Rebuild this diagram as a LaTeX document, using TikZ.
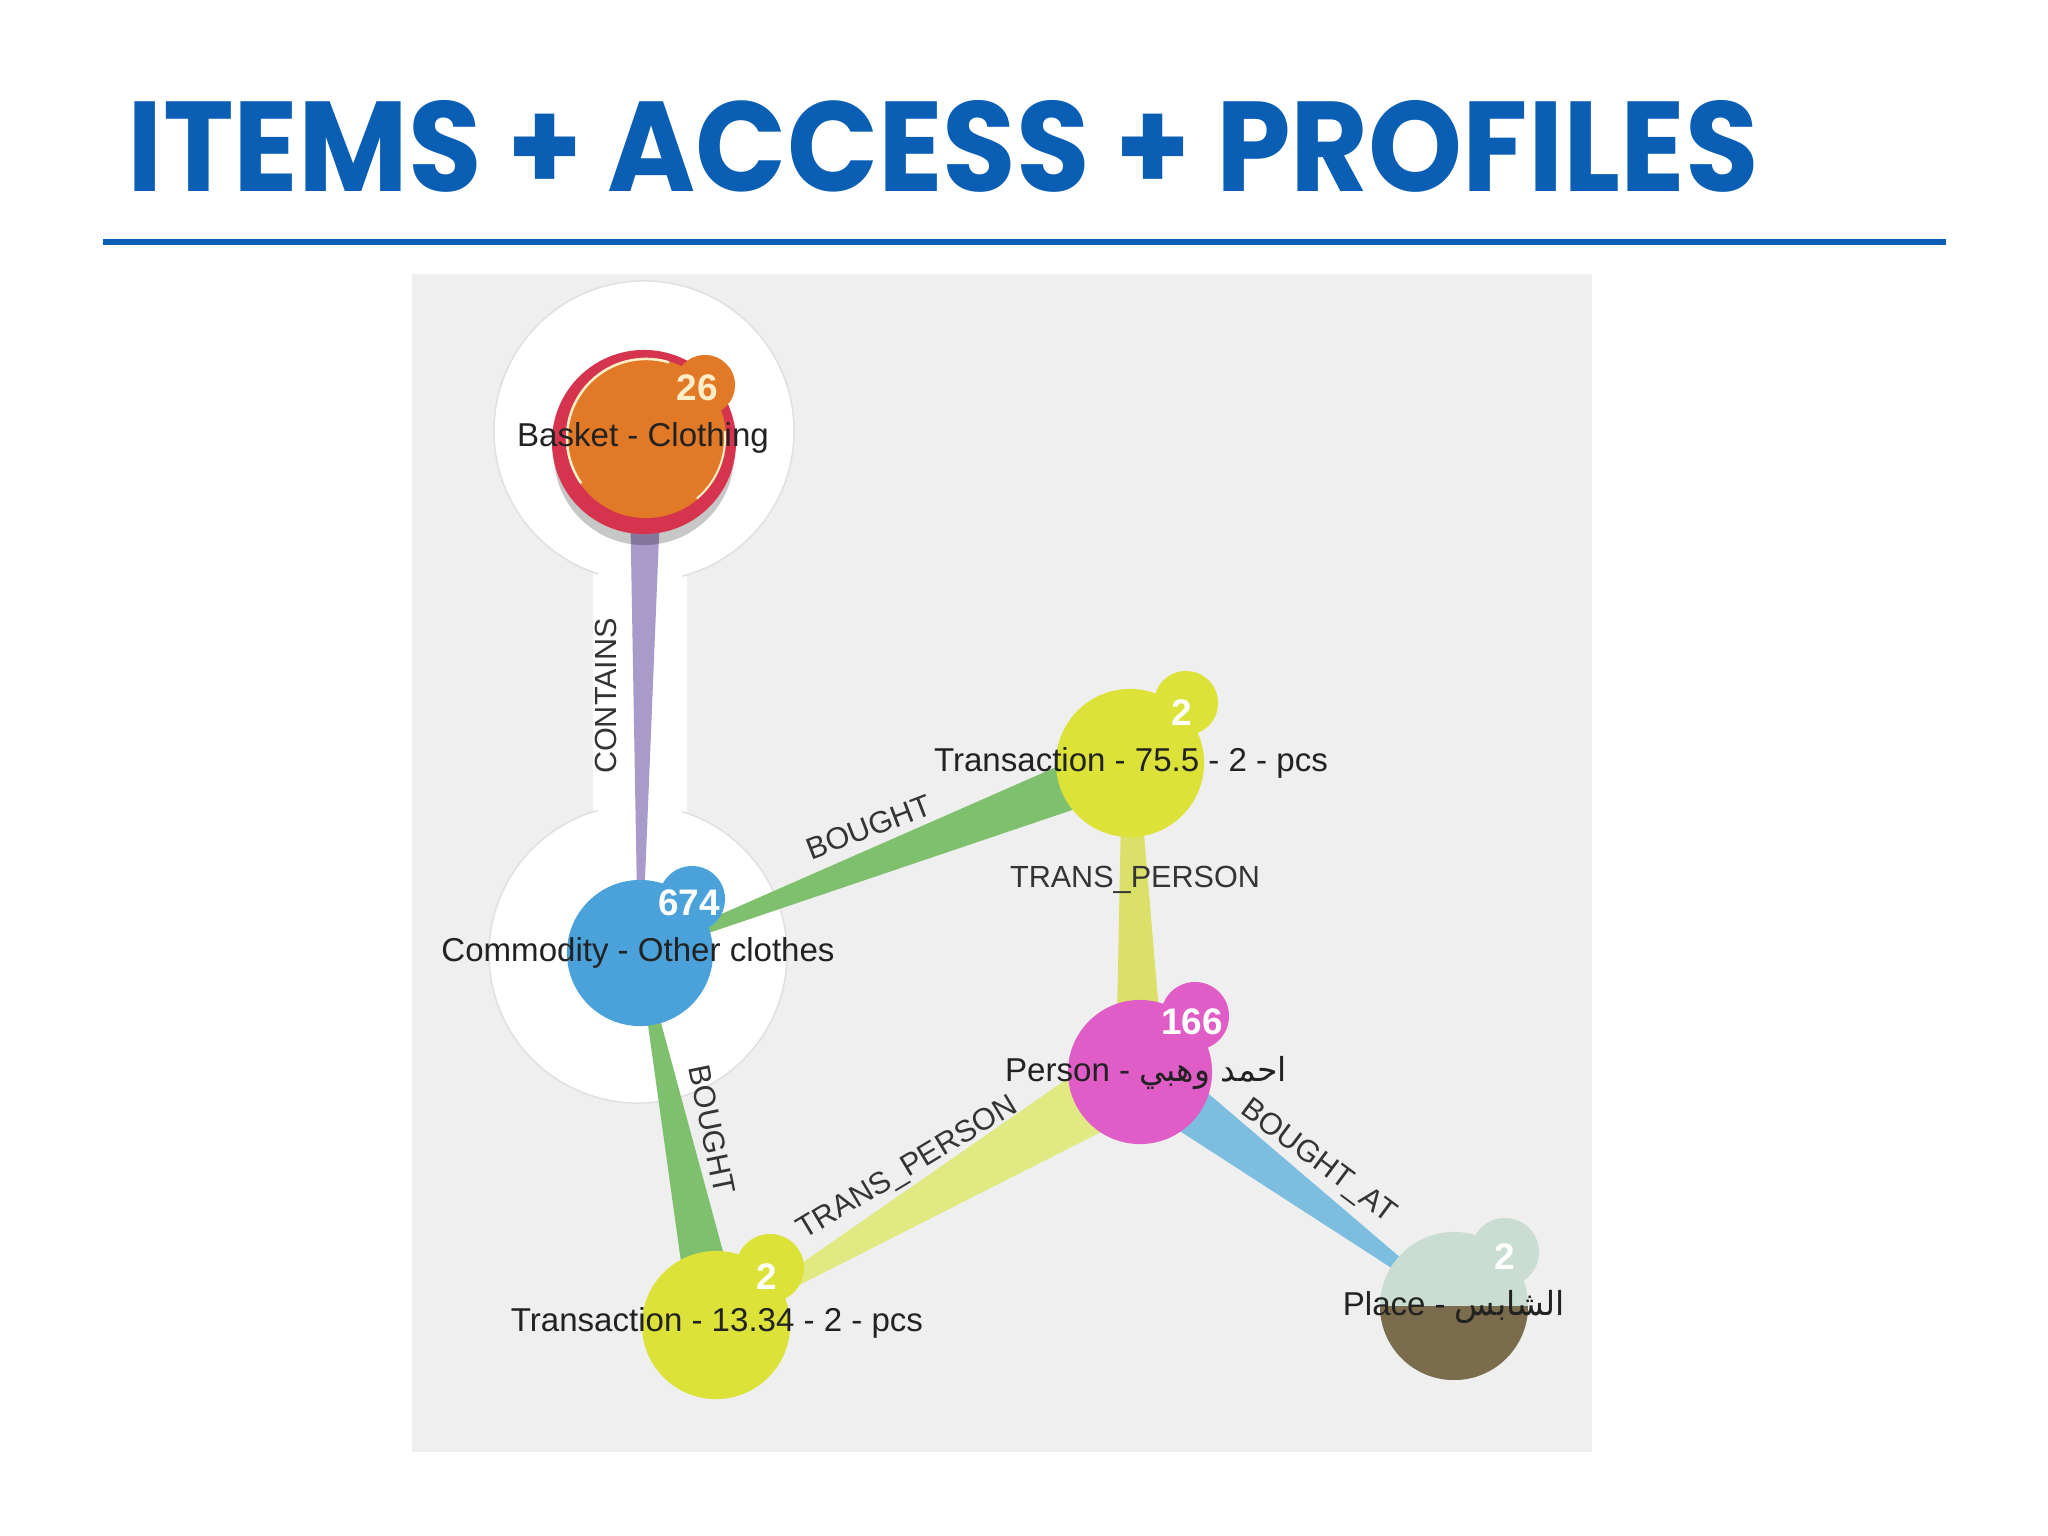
\documentclass[tikz,border=0pt]{standalone}
\usepackage{graphicx}
\usepackage{fontspec}
\setmainfont{Liberation Sans}
\newfontfamily\titlefont{Poppins}
\newfontfamily\arabicfont[Script=Arabic]{DejaVu Sans}
\TeXXeTstate=1
\usetikzlibrary{calc}
\definecolor{titleblue}{RGB}{10,94,180}
\definecolor{panelgray}{RGB}{239,239,239}
\definecolor{halogray}{RGB}{224,224,224}
\definecolor{orangeN}{RGB}{226,121,38}
\definecolor{redring}{RGB}{214,52,78}
\definecolor{creamN}{RGB}{255,238,200}
\definecolor{blueN}{RGB}{75,162,219}
\definecolor{yellowN}{RGB}{220,226,56}
\definecolor{pinkN}{RGB}{224,92,198}
\definecolor{placetop}{RGB}{201,221,211}
\definecolor{placebot}{RGB}{122,108,76}
\definecolor{purpleE}{RGB}{168,154,201}
\definecolor{greenE}{RGB}{127,192,110}
\definecolor{yellowE}{RGB}{218,224,104}
\definecolor{yellowE2}{RGB}{225,234,130}
\definecolor{blueE}{RGB}{124,189,224}
\definecolor{labelgray}{RGB}{34,34,34}
\definecolor{edgegray}{RGB}{52,52,52}
\pgfdeclarelayer{bg}
\pgfdeclarelayer{edges}
\pgfsetlayers{bg,edges,main}
\newcommand{\taperedge}[5]{%
  \begin{pgfonlayer}{edges}
  \fill[#5] let \p1=(#1.center), \p2=(#2.center), \n1={atan2(\y2-\y1,\x2-\x1)} in
    ($(#1.center)+(\n1+90:#3)$) -- ($(#2.center)+(\n1+90:#4)$) --
    ($(#2.center)+(\n1-90:#4)$) -- ($(#1.center)+(\n1-90:#3)$) -- cycle;
  \end{pgfonlayer}}
\tikzset{
  gnode/.style={circle, inner sep=0pt, outer sep=0pt, minimum size={0.02cm*#1}},
  badge/.style={circle, inner sep=0pt, outer sep=0pt, minimum size={0.02cm*#1}},
  nlabel/.style={font=\fontsize{9.4}{11}\selectfont, text=labelgray, inner sep=0pt},
  elabel/.style={font=\fontsize{8.7}{10}\selectfont, text=edgegray, inner sep=0pt},
  bnum/.style={font=\fontsize{10.5}{12}\selectfont\bfseries, text=white, inner sep=0pt},
}
\begin{document}
\begin{tikzpicture}[x=0.01cm,y=-0.01cm]
\useasboundingbox (0,0) rectangle (2048,1536);

% panel and halos
\begin{pgfonlayer}{bg}
\fill[white] (0,0) rectangle (2048,1536);
\fill[panelgray] (412,274) rectangle (1592,1452);
\fill[white] (593,570) rectangle (687,820);
\draw[halogray, line width=0.015cm, fill=white] (644,431) circle[radius=1.5cm];
\draw[halogray, line width=0.015cm, fill=white] (638,954) circle[radius=1.49cm];
\fill[white] (598,560) rectangle (682,830);
\end{pgfonlayer}

% title and rule
\node[anchor=south west, inner sep=0pt, text=titleblue] (title) at (127,193)
  {\resizebox{16.3cm}{0.91cm}{\titlefont\bfseries ITEMS + ACCESS + PROFILES}};
\fill[titleblue] (103,239) rectangle (1946,245);

% nodes
\fill[black, opacity=0.22] (644,455) circle[radius=0.9cm];
\node[gnode=92, fill=redring] (basketring) at (644,442) {};
\node[badge=30, fill=orangeN] (bb) at (705,385) {};
\node[gnode=80, fill=orangeN] (basket) at (646,438) {};
\draw[creamN, line width=0.025cm] (basket.center) ++(73:0.79cm) arc[start angle=73, end angle=215, radius=0.79cm];
\draw[creamN, line width=0.02cm] (basket.center) ++(-50:0.79cm) arc[start angle=-50, end angle=5, radius=0.79cm];

\node[badge=33, fill=blueN] (cb) at (692,899) {};
\node[gnode=73, fill=blueN] (commodity) at (640,953) {};

\node[badge=32, fill=yellowN] (t1b) at (1186,703) {};
\node[gnode=74, fill=yellowN] (trans1) at (1130,763) {};

\node[badge=34, fill=pinkN] (pb) at (1195,1016) {};
\node[gnode=72, fill=pinkN] (person) at (1140,1072) {};

\node[badge=34, fill=yellowN] (t2b) at (770,1268) {};
\node[gnode=74, fill=yellowN] (trans2) at (716,1325) {};

\node[badge=34, fill=placetop] (plb) at (1505,1252) {};
\node[gnode=74, fill=placetop, path picture={\fill[placebot] (path picture bounding box.west) rectangle (path picture bounding box.south east);}] (place) at (1454,1306) {};

% edges
\taperedge{basket}{commodity}{0.17cm}{0.02cm}{purpleE}
\taperedge{commodity}{trans1}{0.03cm}{0.26cm}{greenE}
\taperedge{trans1}{person}{0.08cm}{0.24cm}{yellowE}
\taperedge{commodity}{trans2}{0.02cm}{0.26cm}{greenE}
\taperedge{trans2}{person}{0.02cm}{0.36cm}{yellowE2}
\taperedge{person}{place}{0.28cm}{0.02cm}{blueE}

% badge numbers
\node[bnum, text=creamN] (n26) at (697,388) {26};
\node[bnum] (n674) at (689,903) {674};
\node[bnum] (n2a) at (1182,713) {2};
\node[bnum] (n166) at (1192,1022) {166};
\node[bnum] (n2b) at (767,1277) {2};
\node[bnum] (n2c) at (1505,1257) {2};

% node labels
\node[nlabel] (lbasket) at (643,438) {Basket - Clothing};
\node[nlabel] (lcomm) at (638,953) {Commodity - Other clothes};
\node[nlabel] (ltrans1) at (1131,763) {Transaction - 75.5 - 2 - pcs};
\node[nlabel] (lperson) at (1146,1073) {Person - {\arabicfont\beginR احمد وهبي\endR}};
\node[nlabel] (ltrans2) at (717,1323) {Transaction - 13.34 - 2 - pcs};
\node[nlabel] (lplace) at (1454,1307) {Place - {\arabicfont\beginR الشابس\endR}};

% edge labels
\node[elabel, rotate=90] (econtains) at (606,696) {CONTAINS};
\node[elabel, rotate=21] (ebought1) at (869,827) {BOUGHT};
\node[elabel] (etp1) at (1135,880) {TRANS\_PERSON};
\node[elabel, rotate=-78.5] (ebought2) at (712,1130) {BOUGHT};
\node[elabel, rotate=31] (etp2) at (908,1169) {TRANS\_PERSON};
\node[elabel, rotate=-36.7] (eboughtat) at (1318,1162) {BOUGHT\_AT};
\end{tikzpicture}
\end{document}
